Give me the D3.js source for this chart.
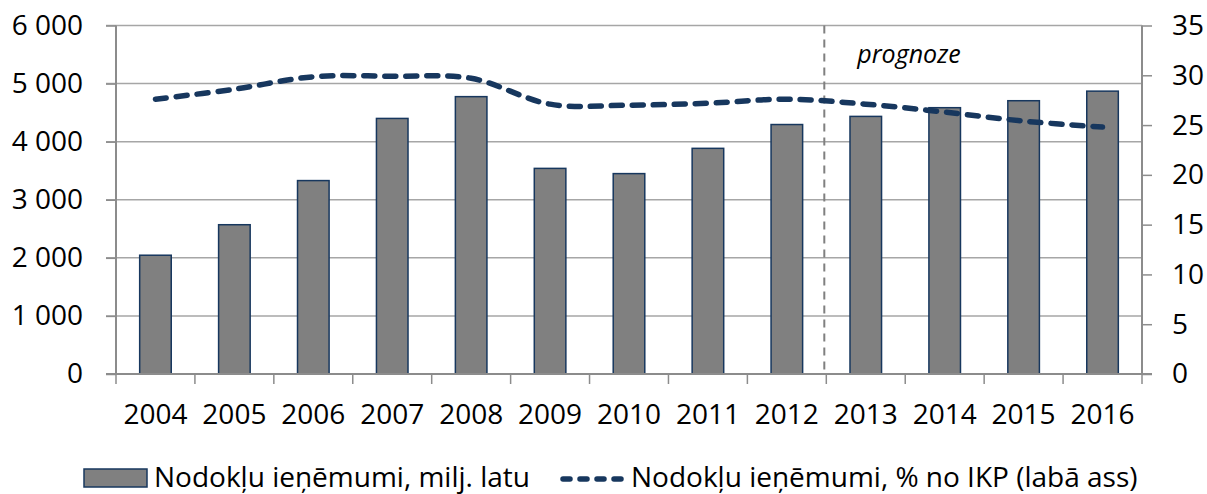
<!DOCTYPE html>
<html>
<head>
<meta charset="utf-8">
<script src="https://cdn.jsdelivr.net/npm/d3@7"></script>
<style>
  body { margin: 0; background: #fff; }
  text { font-family: "Open Sans", "Noto Sans", sans-serif; fill: #000; }
</style>
</head>
<body>
<div id="container"></div>
<script>
const WIDTH = 1207;
const HEIGHT = 494;
const MARGIN = { TOP: 25.5, BOTTOM: 120, LEFT: 116, RIGHT: 65 };
const width = WIDTH - MARGIN.LEFT - MARGIN.RIGHT;
const height = 374 - MARGIN.TOP;

const years = ['2004', '2005', '2006', '2007', '2008', '2009', '2010', '2011', '2012', '2013', '2014', '2015', '2016'];
const revenue = [2045, 2570, 3330, 4400, 4775, 3540, 3450, 3885, 4295, 4435, 4585, 4705, 4870];
const shareGdp = [27.6, 28.6, 29.85, 29.9, 29.7, 27.1, 27.0, 27.2, 27.6, 27.1, 26.3, 25.4, 24.8];
const leftTicks = [0, 1000, 2000, 3000, 4000, 5000, 6000];
const rightTicks = [0, 5, 10, 15, 20, 25, 30, 35];
const forecastFrom = '2013';
const forecastLabel = 'prognoze';
const legendLabels = ['Nodokļu ieņēmumi, milj. latu', 'Nodokļu ieņēmumi, % no IKP (labā ass)'];

const FONT = 28;
const GRID = '#a6a6a6';
const AXIS = '#8c8c8c';
const NAVY = '#17375e';

const svg = d3.select('#container')
    .append('svg')
    .attr('width', WIDTH)
    .attr('height', HEIGHT);

const chart = svg.append('g')
    .attr('transform', `translate(${MARGIN.LEFT}, ${MARGIN.TOP})`);

const x = d3.scaleBand()
    .domain(years)
    .range([0, width])
    .paddingInner(0.6)
    .paddingOuter(0.3);

const yLeft = d3.scaleLinear().domain([0, 6000]).range([height, 0]);
const yRight = d3.scaleLinear().domain([0, 35]).range([height, 0]);

const fmt = d => d3.format(',')(d).replace(',', ' ');

// gridlines
chart.append('g')
    .selectAll('line')
    .data(leftTicks.slice(1))
    .enter()
    .append('line')
      .attr('x1', -10)
      .attr('x2', width)
      .attr('y1', d => yLeft(d))
      .attr('y2', d => yLeft(d))
      .attr('stroke', GRID)
      .attr('stroke-width', 1.5);

// left axis
const axisLeft = d3.axisLeft(yLeft)
    .tickValues(leftTicks)
    .tickFormat(fmt)
    .tickSize(10)
    .tickPadding(23);
const gl = chart.append('g').call(axisLeft);
gl.select('.domain').attr('stroke', AXIS).attr('stroke-width', 2).attr('d', `M0,0V${height}`);
gl.selectAll('.tick line').attr('stroke', AXIS).attr('stroke-width', 1.5);
gl.selectAll('text').attr('font-size', FONT).attr('font-family', '"Open Sans", sans-serif').attr('fill', '#000');

// right axis
const axisRight = d3.axisRight(yRight)
    .tickValues(rightTicks)
    .tickSize(10)
    .tickPadding(20);
const gr = chart.append('g').attr('transform', `translate(${width},0)`).call(axisRight);
gr.select('.domain').attr('stroke', AXIS).attr('stroke-width', 2).attr('d', `M0,0V${height}`);
gr.selectAll('.tick line').attr('stroke', AXIS).attr('stroke-width', 1.5);
gr.selectAll('text').attr('font-size', FONT).attr('font-family', '"Open Sans", sans-serif').attr('fill', '#000');

// bars
chart.selectAll('rect.bar')
    .data(years.map((y, i) => ({ year: y, value: revenue[i] })))
    .enter()
    .append('rect')
      .attr('class', 'bar')
      .attr('x', d => x(d.year))
      .attr('width', x.bandwidth())
      .attr('y', d => yLeft(d.value))
      .attr('height', d => height - yLeft(d.value))
      .attr('fill', '#808080')
      .attr('stroke', NAVY)
      .attr('stroke-width', 1.5);

// bottom axis
const step = x.step();
const gb = chart.append('g').attr('transform', `translate(0,${height})`);
gb.append('line')
    .attr('x1', -10).attr('x2', width + 10)
    .attr('stroke', AXIS).attr('stroke-width', 2);
gb.selectAll('line.tick')
    .data(d3.range(years.length + 1))
    .enter()
    .append('line')
      .attr('class', 'tick')
      .attr('x1', i => i * width / years.length)
      .attr('x2', i => i * width / years.length)
      .attr('y1', 0).attr('y2', 10)
      .attr('stroke', AXIS).attr('stroke-width', 1.5);
gb.selectAll('text')
    .data(years)
    .enter()
    .append('text')
      .attr('x', d => x(d) + x.bandwidth() / 2)
      .attr('y', 50)
      .attr('text-anchor', 'middle')
      .attr('font-size', FONT)
      .text(d => d);

// forecast separator (between 2012 and 2013)
const sepX = x(forecastFrom) - (step - x.bandwidth()) / 2 - 2;
chart.append('line')
    .attr('x1', sepX).attr('x2', sepX)
    .attr('y1', 0).attr('y2', height)
    .attr('stroke', '#808080')
    .attr('stroke-width', 2)
    .attr('stroke-dasharray', '8,6');
chart.append('text')
    .attr('x', sepX + 33)
    .attr('y', 37)
    .attr('font-size', 25)
    .attr('font-style', 'italic')
    .text(forecastLabel);

// line
const line = d3.line()
    .x((d, i) => x(years[i]) + x.bandwidth() / 2)
    .y(d => yRight(d))
    .curve(d3.curveCatmullRom.alpha(0.5));
chart.append('path')
    .datum(shareGdp)
    .attr('d', line)
    .attr('fill', 'none')
    .attr('stroke', NAVY)
    .attr('stroke-width', 5.5)
    .attr('stroke-linecap', 'round')
    .attr('stroke-dasharray', '11,10');

// legend
const legend = svg.append('g');
legend.append('rect')
    .attr('x', 84).attr('y', 469)
    .attr('width', 63).attr('height', 18)
    .attr('fill', '#808080')
    .attr('stroke', NAVY)
    .attr('stroke-width', 1.5);
legend.append('text')
    .attr('x', 154).attr('y', 487)
    .attr('font-size', FONT)
    .text(legendLabels[0]);
legend.append('line')
    .attr('x1', 563).attr('x2', 626)
    .attr('y1', 479).attr('y2', 479)
    .attr('stroke', NAVY)
    .attr('stroke-width', 5.5)
    .attr('stroke-linecap', 'round')
    .attr('stroke-dasharray', '7,10');
legend.append('text')
    .attr('x', 631).attr('y', 487)
    .attr('font-size', FONT)
    .text(legendLabels[1]);
</script>
</body>
</html>
